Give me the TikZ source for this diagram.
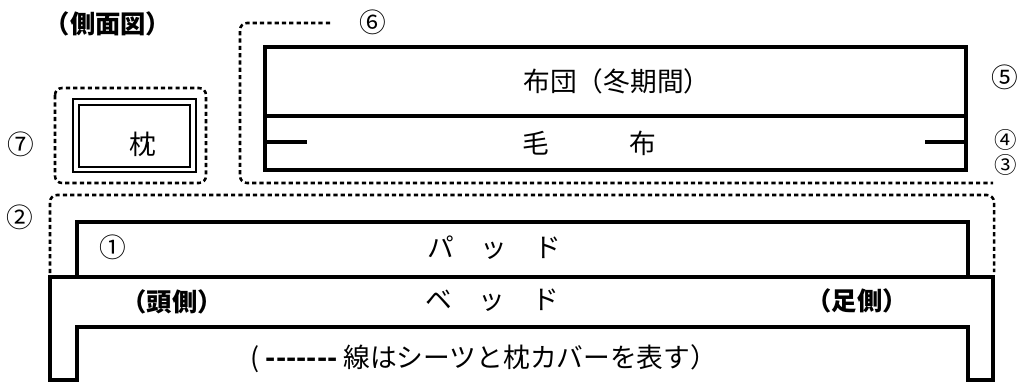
\documentclass[tikz,border=0pt]{standalone}
\usepackage{fontspec}
\setmainfont{Noto Sans CJK JP}
\usepackage{tikz}
\usetikzlibrary{positioning}

\begin{document}
\begin{tikzpicture}[x=0.025cm, y=-0.025cm,
    every node/.style={font=\fontsize{19}{22}\selectfont, inner sep=0pt},
    frame/.style={line width=3.2pt, line join=miter},
    sheet/.style={line width=1.8pt, dash pattern=on 3pt off 2.2pt, rounded corners=5pt},
    num/.style={font=\fontsize{19}{22}\selectfont},
    smallnum/.style={font=\fontsize{16}{18}\selectfont},
    head/.style={font=\fontsize{18}{22}\selectfont\bfseries}
  ]
  \useasboundingbox (0,0) rectangle (1024,383);

  \node[head] (title) at (108,24) {（側面図）};

  % 枕とそのカバー
  \draw[sheet] (55,88) rectangle (206,183);
  \draw[line width=1.3pt] (73,99) rectangle (196,172);
  \draw[line width=0.9pt] (79,105) rectangle (190,167);
  \node (pillow) at (143,144) {枕};
  \node[num] (n7) at (21,144) {⑦};

  % 布団と毛布
  \draw[sheet] (330,23) -- (240,23) -- (240,183) -- (993,183);
  \draw[frame] (265,47) rectangle (966,170);
  \draw[frame] (265,116) -- (966,116);
  \draw[line width=2.4pt] (265,142) -- (307,142);
  \draw[line width=2.4pt] (925,142) -- (966,142);
  \node (futon) at (617,81) {布団（冬期間）};
  \node (blanket) at (589,143) {毛\hspace{3em}布};
  \node[num] (n6) at (373,22) {⑥};
  \node[num] (n5) at (1005,77) {⑤};
  \node[smallnum] (n4) at (1006,140) {④};
  \node[smallnum] (n3) at (1006,165) {③};

  % パッドとベッド
  \draw[sheet] (50,273) -- (50,195) -- (994,195) -- (994,272);
  \draw[frame] (77,277) -- (77,222) -- (968,222) -- (968,277);
  \draw[frame] (50,380) -- (50,277) -- (993,277) -- (993,380) -- (968,380)
    -- (968,327) -- (77,327) -- (77,380) -- cycle;
  \node (pad) at (494,248) {パ\hspace{1em}ッ\hspace{1em}ド};
  \node (bed) at (492,300) {ベ\hspace{1em}ッ\hspace{1em}ド};
  \node[num] (n1) at (113,247) {①};
  \node[num] (n2) at (20,217) {②};
  \node[head] (headside) at (172,302) {（頭側）};
  \node[head] (footside) at (857,301) {（足側）};

  \node (note) at (484,359) {(\ \textbf{-{}-{}-{}-{}-{}-{}-} 線はシーツと枕カバーを表す）};

\end{tikzpicture}
\end{document}
